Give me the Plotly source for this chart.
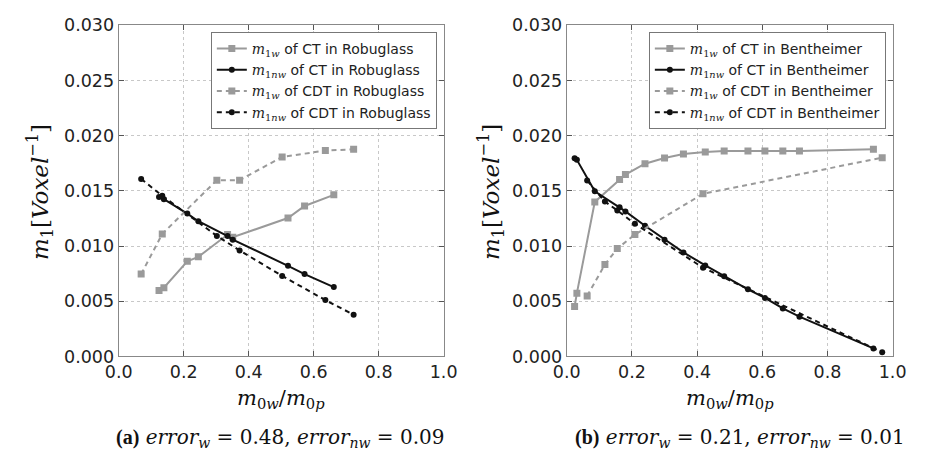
import plotly.graph_objects as go

# ---------------- data: (a) Robuglass ----------------
rob_ct_x = [0.124, 0.139, 0.211, 0.245, 0.335, 0.351, 0.521, 0.572, 0.662]
rob_ct_w = [0.00597, 0.00622, 0.00862, 0.00902, 0.01104, 0.01080, 0.01254, 0.01363, 0.01464]
rob_ct_nw = [0.01444, 0.01424, 0.01294, 0.01225, 0.01090, 0.01058, 0.00821, 0.00746, 0.00628]
rob_cdt_x = [0.069, 0.134, 0.302, 0.372, 0.503, 0.636, 0.723]
rob_cdt_w = [0.00746, 0.01110, 0.01597, 0.01597, 0.01807, 0.01865, 0.01876]
rob_cdt_nw = [0.01608, 0.01455, 0.01092, 0.00960, 0.00729, 0.00510, 0.00378]

# ---------------- data: (b) Bentheimer ----------------
ben_ct_x = [0.024, 0.031, 0.086, 0.162, 0.180, 0.240, 0.300, 0.358, 0.425, 0.483,
            0.556, 0.608, 0.663, 0.714, 0.941]
ben_ct_w = [0.00452, 0.00573, 0.01400, 0.01602, 0.01648, 0.01746, 0.01798, 0.01833,
            0.01853, 0.01862, 0.01862, 0.01862, 0.01862, 0.01862, 0.01876]
ben_ct_nw = [0.01795, 0.01781, 0.01496, 0.01352, 0.01314, 0.01184, 0.01058, 0.00942,
             0.00824, 0.00726, 0.00608, 0.00530, 0.00435, 0.00360, 0.00072]
ben_cdt_x = [0.0625, 0.117, 0.155, 0.209, 0.418, 0.968]
ben_cdt_w = [0.00548, 0.00833, 0.00977, 0.01104, 0.01473, 0.01801]
ben_cdt_nw = [0.01594, 0.01403, 0.01323, 0.01202, 0.00804, 0.00037]

x_ticks = [0.0, 0.2, 0.4, 0.6, 0.8, 1.0]
y_ticks = [0.000, 0.005, 0.010, 0.015, 0.020, 0.025, 0.030]

GRAY = "#9a9a9a"
BLACK = "#111111"
SANS = "DejaVu Sans"
MATH = "DejaVu Serif"
DASH = "5px,4px"

W, H = 927, 464
def px_x(p): return p / W
def px_y(p): return 1 - p / H

fig = go.Figure()

def m1(sub):
    return f"<span style='font-family:DejaVu Serif'><i>m</i><sub>1<i>{sub}</i></sub></span>"

def add_set(xa, ya, leg, ct_x, ct_w, ct_nw, cdt_x, cdt_w, cdt_nw, name):
    fig.add_trace(go.Scatter(x=ct_x, y=ct_w, mode="lines+markers", xaxis=xa, yaxis=ya,
        legend=leg, name=f"{m1('w')} of CT in {name}",
        line=dict(color=GRAY, width=2), marker=dict(symbol="square", size=7, color=GRAY)))
    fig.add_trace(go.Scatter(x=ct_x, y=ct_nw, mode="lines+markers", xaxis=xa, yaxis=ya,
        legend=leg, name=f"{m1('nw')} of CT in {name}",
        line=dict(color=BLACK, width=2), marker=dict(symbol="circle", size=6, color=BLACK)))
    fig.add_trace(go.Scatter(x=cdt_x, y=cdt_w, mode="lines+markers", xaxis=xa, yaxis=ya,
        legend=leg, name=f"{m1('w')} of CDT in {name}",
        line=dict(color=GRAY, width=2, dash=DASH), marker=dict(symbol="square", size=7, color=GRAY)))
    fig.add_trace(go.Scatter(x=cdt_x, y=cdt_nw, mode="lines+markers", xaxis=xa, yaxis=ya,
        legend=leg, name=f"{m1('nw')} of CDT in {name}",
        line=dict(color=BLACK, width=2, dash=DASH), marker=dict(symbol="circle", size=6, color=BLACK)))

add_set("x", "y", "legend", rob_ct_x, rob_ct_w, rob_ct_nw, rob_cdt_x, rob_cdt_w, rob_cdt_nw, "Robuglass")
add_set("x2", "y2", "legend2", ben_ct_x, ben_ct_w, ben_ct_nw, ben_cdt_x, ben_cdt_w, ben_cdt_nw, "Bentheimer")

axis_common = dict(showline=True, linecolor="#888888", linewidth=1.2, mirror="all",
                   ticks="inside", ticklen=5, tickcolor="#555555",
                   showgrid=True, gridcolor="#c8c8c8", griddash="dot", gridwidth=1,
                   zeroline=False, tickfont=dict(family=SANS, size=17.5, color="#222222"))

leg_common = dict(xanchor="right", yanchor="top", bgcolor="white", bordercolor="#777777",
                  borderwidth=1, itemwidth=30, tracegroupgap=0,
                  font=dict(family=SANS, size=14, color="#222222"))

fig.update_layout(
    width=W, height=H, margin=dict(l=0, r=0, t=0, b=0),
    paper_bgcolor="white", plot_bgcolor="white",
    xaxis=dict(domain=[px_x(108), px_x(443)], range=[0, 1], tickvals=x_ticks,
               tickformat=".1f", anchor="y", **axis_common),
    yaxis=dict(domain=[px_y(362), px_y(16)], range=[0, 0.03], tickvals=y_ticks,
               tickformat=".3f", anchor="x", **axis_common),
    xaxis2=dict(domain=[px_x(570), px_x(906)], range=[0, 1], tickvals=x_ticks,
                tickformat=".1f", anchor="y2", **axis_common),
    yaxis2=dict(domain=[px_y(362), px_y(16)], range=[0, 0.03], tickvals=y_ticks,
                tickformat=".3f", anchor="x2", **axis_common),
    legend=dict(x=px_x(436), y=px_y(23), **leg_common),
    legend2=dict(x=px_x(899), y=px_y(23), **leg_common),
    showlegend=True,
)

ylab = "<i>m</i><sub>1</sub>[<i>Voxel</i><sup>−1</sup>]"
xlab = "<i>m</i><sub>0<i>w</i></sub>/<i>m</i><sub>0<i>p</i></sub>"
cap_a = ("<span style='font-family:Liberation Serif'><b>(a)</b></span> <i>error</i><sub><i>w</i></sub>"
         " = 0.48, <i>error</i><sub><i>nw</i></sub> = 0.09")
cap_b = ("<span style='font-family:Liberation Serif'><b>(b)</b></span> <i>error</i><sub><i>w</i></sub>"
         " = 0.21, <i>error</i><sub><i>nw</i></sub> = 0.01")

annots = [
    dict(text=ylab, x=px_x(27), y=px_y(190), textangle=-90, font=dict(family=MATH, size=23)),
    dict(text=ylab, x=px_x(492), y=px_y(190), textangle=-90, font=dict(family=MATH, size=23)),
    dict(text=xlab, x=px_x(275), y=px_y(407), font=dict(family=MATH, size=21)),
    dict(text=xlab, x=px_x(738), y=px_y(407), font=dict(family=MATH, size=21)),
    dict(text=cap_a, x=px_x(275), y=px_y(447), font=dict(family=MATH, size=20)),
    dict(text=cap_b, x=px_x(749), y=px_y(447), font=dict(family=MATH, size=20)),
]
for a in annots:
    a.update(xref="paper", yref="paper", showarrow=False, xanchor="center", yanchor="middle")
    a["font"]["color"] = "#111111"
fig.update_layout(annotations=annots)

fig.write_html("out.html")
